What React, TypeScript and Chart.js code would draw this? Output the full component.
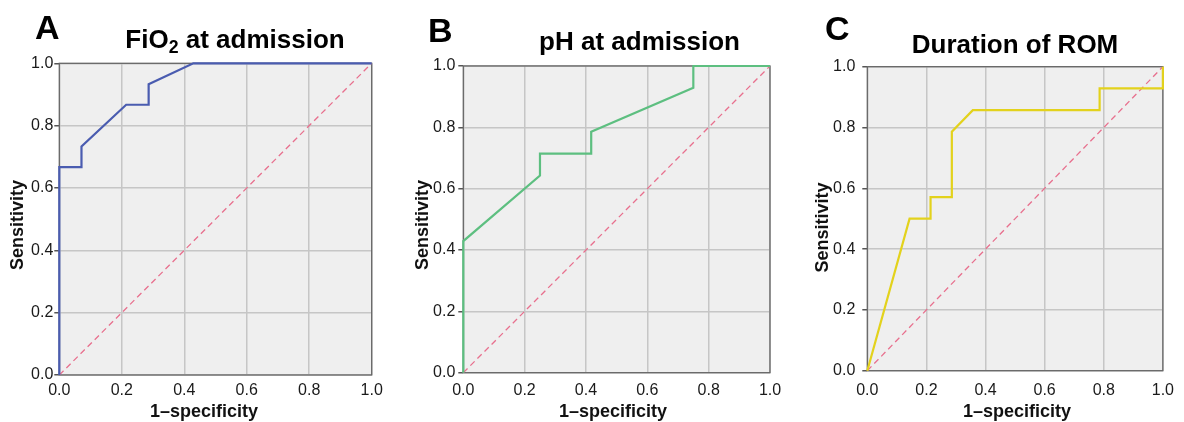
import React, { useEffect, useRef } from "react";
import { Chart, registerables } from "chart.js";

Chart.register(...registerables);

// ---- data ----
const tickValues = [0, 0.2, 0.4, 0.6, 0.8, 1.0];

const fio2Fpr = [0, 0, 0.071, 0.071, 0.214, 0.286, 0.286, 0.429, 1];
const fio2Tpr = [0, 0.667, 0.667, 0.733, 0.867, 0.867, 0.933, 1, 1];

const phFpr = [0, 0, 0.25, 0.25, 0.417, 0.417, 0.75, 0.75, 1];
const phTpr = [0, 0.429, 0.643, 0.714, 0.714, 0.786, 0.929, 1, 1];

const romFpr = [0, 0.143, 0.214, 0.214, 0.286, 0.286, 0.357, 0.786, 0.786, 1, 1];
const romTpr = [0, 0.5, 0.5, 0.571, 0.571, 0.786, 0.857, 0.857, 0.929, 0.929, 1];

const refLine = [0, 1];

const xTitle = "1–specificity";
const yTitle = "Sensitivity";

const FONT = '"Liberation Sans", Arial, Helvetica, sans-serif';
const H = 422;

type Spec = {
  left: number;
  width: number;
  plotLeft: number;
  plotRight: number;
  plotTop: number;
  plotBottom: number;
  yTitleBase: number;
  yTitleMid: number;
  xTitleMid: number;
  xTitleBase: number;
  yTickPad: number;
  xTickPad: number;
  color: string;
  fpr: number[];
  tpr: number[];
};

const framePlugin = {
  id: "rocFrame",
  beforeDraw(chart: any) {
    const { ctx, chartArea } = chart;
    const { left, top, width, height } = chartArea;
    ctx.save();
    ctx.fillStyle = "#efefef";
    ctx.fillRect(left, top, width, height);
    ctx.restore();
  },
  beforeDatasetsDraw(chart: any) {
    const { ctx, chartArea } = chart;
    const { left, top, width, height } = chartArea;
    ctx.save();
    ctx.strokeStyle = "#666666";
    ctx.lineWidth = 1.3;
    ctx.strokeRect(left, top, width, height);
    ctx.restore();
  },
  afterDraw(chart: any, _args: any, opts: any) {
    const { ctx } = chart;
    ctx.save();
    ctx.fillStyle = "#111111";
    ctx.font = `bold 18px ${FONT}`;
    ctx.textAlign = "center";
    ctx.textBaseline = "alphabetic";
    ctx.fillText(opts.xText, opts.xMid, opts.xBase);
    ctx.translate(opts.yBase, opts.yMid);
    ctx.rotate(-Math.PI / 2);
    ctx.fillText(opts.yText, 0, 0);
    ctx.restore();
  },
};

function RocPanel({ spec }: { spec: Spec }) {
  const ref = useRef<HTMLCanvasElement>(null);
  useEffect(() => {
    if (!ref.current) return;
    const yWidth = spec.plotLeft - spec.left;
    const padRight = spec.left + spec.width - spec.plotRight;
    const xHeight = H - spec.plotBottom;
    const chart = new Chart(ref.current, {
      type: "line",
      data: {
        datasets: [
          {
            data: spec.fpr.map((x, i) => ({ x, y: spec.tpr[i] })),
            borderColor: spec.color,
            borderWidth: 2.2,
            pointRadius: 0,
            tension: 0,
            fill: false,
            order: 0,
            clip: false,
          } as any,
          {
            data: refLine.map((v) => ({ x: v, y: v })),
            borderColor: "#e8708e",
            borderWidth: 1.3,
            borderDash: [6, 4],
            pointRadius: 0,
            tension: 0,
            fill: false,
            order: 1,
          } as any,
        ],
      },
      options: {
        animation: false,
        responsive: true,
        maintainAspectRatio: false,
        layout: {
          padding: { left: 0, right: padRight, top: spec.plotTop, bottom: 0 },
        },
        plugins: {
          legend: { display: false },
          tooltip: { enabled: false },
          title: { display: false },
          rocFrame: {
            xText: xTitle,
            yText: yTitle,
            xMid: spec.xTitleMid - spec.left,
            xBase: spec.xTitleBase,
            yMid: spec.yTitleMid,
            yBase: spec.yTitleBase - spec.left,
          },
        },
        scales: {
          x: {
            type: "linear",
            min: 0,
            max: 1,
            afterBuildTicks: (s: any) => {
              s.ticks = tickValues.map((v) => ({ value: v }));
            },
            afterFit: (s: any) => {
              s.height = xHeight;
            },
            ticks: {
              callback: (v: any) => Number(v).toFixed(1),
              font: { family: FONT, size: 16 },
              color: "#1a1a1a",
              padding: spec.xTickPad,
              maxRotation: 0,
              autoSkip: false,
            },
            grid: { color: "#c6c6c6", lineWidth: 1.5, drawTicks: false },
            border: { display: false },
            title: { display: false },
          },
          y: {
            type: "linear",
            min: 0,
            max: 1,
            afterBuildTicks: (s: any) => {
              s.ticks = tickValues.map((v) => ({ value: v }));
            },
            afterFit: (s: any) => {
              s.width = yWidth;
            },
            ticks: {
              callback: (v: any) => Number(v).toFixed(1),
              font: { family: FONT, size: 16 },
              color: "#1a1a1a",
              padding: spec.yTickPad,
              autoSkip: false,
            },
            grid: { color: "#c6c6c6", lineWidth: 1.5, drawTicks: true, tickLength: 5, tickColor: "#555555" },
            border: { display: false },
            title: { display: false },
          },
        },
      } as any,
      plugins: [framePlugin],
    });
    return () => chart.destroy();
  }, [spec]);

  return (
    <div style={{ position: "absolute", left: spec.left, top: 0, width: spec.width, height: H }}>
      <canvas ref={ref} />
    </div>
  );
}

const specA: Spec = {
  left: 0, width: 395, plotLeft: 59.3, plotRight: 371.7, plotTop: 63.3, plotBottom: 375,
  yTitleBase: 23, yTitleMid: 225, xTitleMid: 204, xTitleBase: 416.5,
  yTickPad: 1, xTickPad: 6, color: "#4a5cb0", fpr: fio2Fpr, tpr: fio2Tpr,
};
const specB: Spec = {
  left: 395, width: 395, plotLeft: 463.3, plotRight: 770, plotTop: 66, plotBottom: 372.7,
  yTitleBase: 428, yTitleMid: 225, xTitleMid: 613, xTitleBase: 416.5,
  yTickPad: 3, xTickPad: 8, color: "#5dbf80", fpr: phFpr, tpr: phTpr,
};
const specC: Spec = {
  left: 790, width: 394, plotLeft: 867.3, plotRight: 1170.7, plotTop: 66.7, plotBottom: 370.7,
  yTitleBase: 828, yTitleMid: 227.5, xTitleMid: 1017, xTitleBase: 416.5,
  yTickPad: 7, xTickPad: 10, color: "#e3d21c", fpr: romFpr, tpr: romTpr,
};

const letterStyle = (left: number, top: number): React.CSSProperties => ({
  position: "absolute",
  left,
  top,
  fontFamily: FONT,
  fontWeight: "bold",
  fontSize: 34,
  lineHeight: "34px",
  color: "#000",
  whiteSpace: "nowrap",
});

const titleStyle = (center: number, top: number): React.CSSProperties => ({
  position: "absolute",
  left: center - 200,
  width: 400,
  top,
  textAlign: "center",
  fontFamily: FONT,
  fontWeight: "bold",
  fontSize: 26,
  lineHeight: "26px",
  color: "#000",
  whiteSpace: "nowrap",
});

export default function App() {
  return (
    <div style={{ position: "absolute", left: 0, top: 0, width: 1184, height: H, background: "#fff", overflow: "hidden" }}>
      <RocPanel spec={specA} />
      <RocPanel spec={specB} />
      <RocPanel spec={specC} />
      <div style={letterStyle(35, 10)}>A</div>
      <div style={letterStyle(428, 12.5)}>B</div>
      <div style={letterStyle(825, 11)}>C</div>
      <div style={titleStyle(235, 26)}>
        FiO<sub style={{ fontSize: "0.68em", verticalAlign: "-0.28em", lineHeight: 0 }}>2</sub> at admission
      </div>
      <div style={titleStyle(639.5, 28)}>pH at admission</div>
      <div style={titleStyle(1015, 31)}>Duration of ROM</div>
    </div>
  );
}
